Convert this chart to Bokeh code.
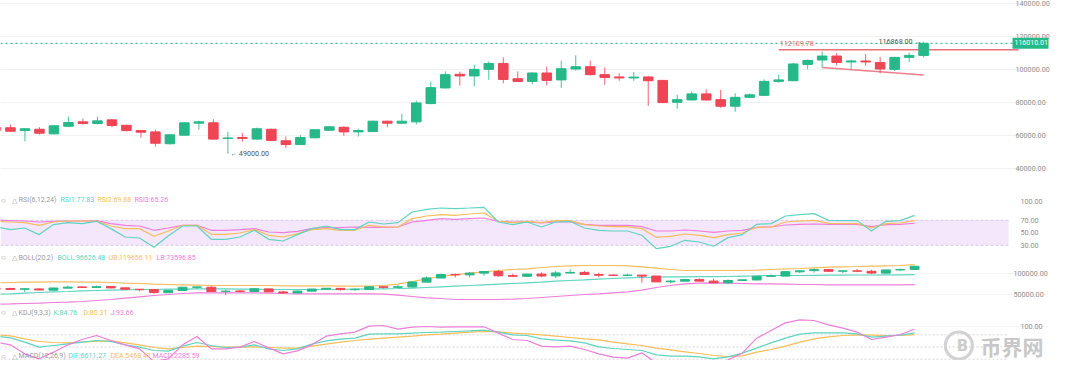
from bokeh.plotting import figure
from bokeh.layouts import column
from bokeh.models import (Range1d, FixedTicker, NumeralTickFormatter, Label,
                          ColumnDataSource)
from bokeh.core.properties import value
from bokeh.embed import file_html
from bokeh.resources import INLINE

# ---------------- data (weekly candles, index -1 .. 63) ----------------
week = list(range(-1, 64))
open_ = [65000, 64700, 63000, 63800, 61000, 65600, 68300, 67300, 69500, 66200,
         63000, 62200, 55000, 60200, 67500, 67700, 58200, 58800, 57800, 63800,
         56800, 54500, 58600, 63200, 65000, 62200, 62400, 68700, 67500, 68300,
         79400, 88900, 97200, 96200, 100200, 103800, 94500, 92900, 98000, 93800,
         100400, 101800, 97000, 95600, 95000, 95600, 93500, 80200, 81600, 85300,
         81800, 77800, 83200, 84400, 92900, 93300, 103200, 105900, 108300, 104700,
         105300, 104400, 100200, 107500, 108700]
high = [65500, 66700, 64500, 65000, 66300, 71500, 70300, 71500, 70000, 66500,
        63300, 63500, 61000, 68000, 69100, 69900, 62200, 61400, 64800, 64100,
        59400, 60200, 63800, 65900, 65500, 64200, 69000, 69000, 73200, 81200,
        92700, 99000, 98800, 103000, 105000, 107500, 99000, 98400, 102000, 105500,
        108700, 105500, 101400, 97800, 98600, 96200, 93800, 84700, 86800, 88100,
        87700, 85600, 85600, 94100, 97000, 104200, 106200, 111100, 110100, 106200,
        109500, 107900, 107800, 110300, 116868]
low = [62800, 62400, 56500, 60600, 60600, 65500, 66700, 66700, 65000, 62500,
       58600, 53300, 54500, 60000, 63500, 57500, 49000, 56200, 57500, 56700,
       52500, 54200, 58300, 63000, 59800, 59400, 62100, 65000, 67200, 66700,
       79000, 88600, 90300, 90100, 93800, 91700, 92500, 91300, 90500, 88900,
       99400, 96500, 90900, 93300, 93300, 78000, 79700, 76200, 81300, 81300,
       76800, 74400, 83000, 84100, 92100, 93000, 100200, 101400, 102600, 99800,
       102400, 97800, 99200, 104700, 107500]
close = [63000, 62600, 64100, 61400, 65900, 67900, 67300, 68900, 66100, 63000,
         62000, 55300, 60400, 67700, 68300, 57800, 58500, 58200, 64100, 57000,
         54500, 58800, 63500, 65300, 62200, 63000, 68700, 67500, 68700, 79800,
         89100, 97000, 96200, 100200, 103800, 94100, 92900, 98000, 93500, 100600,
         101800, 97000, 95300, 95000, 95500, 93300, 80000, 81800, 85300, 81600,
         77800, 83200, 84700, 92900, 93800, 103500, 105600, 108300, 104400, 105300,
         104700, 100400, 107500, 108700, 116010.01]

rsi1 = [59.3, 55.1, 57.7, 47.1, 63.1, 66.3, 64.7, 68.4, 56.7, 43.3, 41.7, 26.8, 44.9,
        60.9, 60.9, 39.6, 39.6, 43.3, 54.0, 39.6, 36.9, 47.1, 56.7, 60.9, 55.1, 55.1,
        67.3, 64.1, 66.3, 83.3, 87.6, 89.7, 88.7, 89.7, 90.8, 67.3, 63.1,
        67.3, 59.3, 67.3, 68.4, 57.7, 54.0, 52.9, 52.9, 46.0, 24.7, 28.4, 38.0, 35.3,
        28.4, 42.3, 47.1, 63.6, 64.7, 76.9, 79.1, 80.7, 70.0, 69.5, 69.5, 52.9, 68.4,
        69.5, 77.83]
rsi2 = [68.4, 67.3, 66.3, 62.0, 67.3, 68.9, 68.9, 68.9, 60.9, 56.7, 56.7, 44.4, 52.9,
        62.0, 62.0, 47.6, 47.6, 49.7, 55.1, 46.0, 43.3, 48.7, 55.1, 56.7, 54.0, 54.0,
        62.0, 59.3, 59.3, 72.7, 76.9, 79.1, 78.0, 80.1, 81.7, 68.4, 66.3,
        68.4, 66.3, 69.5, 69.5, 63.1, 60.9, 59.9, 59.9, 56.7, 42.8, 44.4, 48.1, 46.0,
        42.3, 47.1, 49.7, 58.8, 59.3, 67.3, 68.9, 70.0, 65.2, 64.7, 64.7, 57.7, 64.7,
        65.7, 69.88]
rsi3 = [70.0, 69.5, 68.9, 67.3, 68.4, 68.9, 68.9, 69.5, 64.7, 62.0, 60.9, 54.0, 57.7,
        62.0, 62.0, 54.0, 54.0, 55.1, 56.7, 51.3, 50.3, 52.4, 56.7, 58.3, 58.3, 59.3,
        58.8, 58.8, 59.3, 67.3, 70.0, 72.7, 71.6, 72.7, 73.7, 68.4, 67.3,
        67.3, 65.7, 67.3, 67.3, 63.6, 62.0, 62.0, 62.0, 59.9, 52.9, 52.9, 54.5, 52.9,
        50.8, 52.9, 54.0, 58.8, 59.3, 62.5, 63.6, 64.1, 63.6, 63.6, 63.6, 59.9, 63.1,
        63.6, 65.26]

boll_ub = [77800, 78600, 79300, 79300, 80100, 80100, 79300, 79300, 78600, 77000,
           76300, 74700, 74000, 73200, 72400, 71700, 71700, 71700, 71700, 71700,
           70900, 70900, 70900, 70900, 70100, 70100, 70100, 71700, 74700, 80900,
           87000, 93000, 96200, 100100, 103100, 106200, 108500, 110100, 113100, 115400,
           117000, 117700, 117700, 117700, 117000, 114700, 111600, 108500, 106200, 106200,
           106200, 106200, 106200, 107000, 108500, 110100, 110800, 112400, 113900, 114700,
           115400, 116200, 117000, 117700, 119656.11]
boll_mid = [51700, 52500, 54000, 55500, 57100, 57800, 59400, 60100, 60900, 61700,
            62400, 62400, 63200, 63200, 64000, 64000, 64000, 63200, 63200, 62400,
            62400, 62400, 62400, 62400, 62400, 63200, 64000, 64000, 64700, 65500,
            67100, 68600, 70100, 71700, 73200, 74700, 76300, 77800, 79300, 81600,
            83200, 84700, 86300, 87800, 89300, 90100, 90900, 91600, 91600, 92000,
            92000, 92400, 93200, 93900, 94700, 94700, 94700, 95100, 95500, 95500,
            95800, 95800, 96200, 96200, 96626.48]
boll_lb = [28700, 29400, 30200, 31000, 32500, 33300, 34800, 37100, 39400, 42500,
           45500, 48600, 50900, 53200, 54800, 54800, 54800, 54800, 54800, 54000,
           53200, 52500, 52500, 52500, 52500, 52500, 52500, 51700, 49400, 46300,
           43200, 41700, 39400, 39400, 39400, 39400, 40200, 41700, 44000, 46300,
           48600, 50900, 52500, 54800, 57100, 60900, 67100, 71700, 75500, 77000,
           77800, 77000, 76300, 75500, 75500, 74700, 74000, 74000, 73200, 73200,
           73200, 73200, 73200, 73200, 73596.85]

kdj_k = [76.7, 72.6, 61.9, 49.5, 53.6, 57.7, 61.9, 66.0, 63.5, 55.3, 49.5, 41.3, 39.7,
         52.0, 61.0, 53.6, 48.7, 49.5, 55.3, 45.4, 41.3, 45.4, 56.9, 65.1, 69.3, 71.7,
         81.6, 82.4, 82.4, 84.1, 85.7, 86.5, 88.2, 89.8, 91.5, 86.5, 79.9,
         78.3, 70.1, 66.8, 65.1, 60.2, 50.3, 46.2, 43.8, 41.3, 30.6, 27.3, 27.3, 25.7,
         20.8, 25.7, 34.7, 47.1, 60.2, 71.7, 81.6, 84.9, 84.9, 84.9, 82.4, 74.2, 76.7,
         79.1, 84.76]
kdj_d = [79.9, 77.5, 70.1, 63.5, 61.0, 60.2, 61.9, 64.3, 65.1, 60.2, 55.3, 48.7, 45.4,
         48.7, 52.0, 51.2, 49.5, 49.5, 50.3, 48.7, 47.1, 47.1, 52.0, 56.9, 61.9, 66.0,
         69.3, 71.7, 74.2, 76.7, 79.9, 81.6, 84.1, 86.5, 88.2, 87.4, 84.1,
         82.4, 79.9, 76.7, 73.4, 70.1, 67.6, 61.9, 57.7, 53.6, 47.1, 42.9, 38.0, 33.9,
         29.0, 26.5, 28.2, 37.2, 43.8, 52.0, 61.9, 70.1, 75.0, 78.3, 79.9, 79.1, 78.3,
         78.3, 80.31]
kdj_j = [61.9, 55.3, 33.1, 20.8, 37.2, 55.3, 68.4, 78.3, 66.0, 55.3, 45.4, 14.2, 20.8,
         55.3, 75.8, 45.4, 45.4, 49.5, 63.5, 47.9, 33.1, 40.5, 55.3, 76.7, 82.4, 86.5,
         101.3, 102.9, 93.9, 98.9, 100.5, 98.9, 99.7, 99.7, 99.7, 84.1, 68.4,
         66.0, 52.0, 50.3, 52.0, 43.8, 33.1, 24.9, 22.4, 35.6, 10.1, 8.5, 14.2, 14.2,
         4.3, 18.3, 34.7, 71.7, 90.6, 109.5, 116.9, 115.3, 104.6, 96.4, 86.5, 68.4, 74.2,
         80.8, 93.66]

price_ticks = [40000, 60000, 80000, 100000, 120000, 140000]
rsi_ticks = [30, 50, 70, 100]
boll_ticks = [50000, 100000]
kdj_ticks = [100]
rsi_band = [30, 70]
kdj_levels = [20, 50, 80]

last_price = 116010.01
period_high, high_week = 116868.00, 63
period_low, low_week = 49000.00, 15
resist_level, resist_start = 112109.78, 53
trend_x = [56, 63]
trend_y = [101400, 96800]

rsi_head = ["RSI(6,12,24)", "RSI1:77.83", "RSI2:69.88", "RSI3:65.26"]
boll_head = ["BOLL(20,2)", "BOLL:96626.48", "UB:119656.11", "LB:73596.85"]
kdj_head = ["KDJ(9,3,3)", "K:84.76", "D:80.31", "J:93.66"]
macd_head = ["MACD(12,26,9)", "DIF:6611.27", "DEA:5468.47", "MACD:2285.59"]

# ---------------- styling / layout ----------------
GREEN = "#26b889"
RED = "#ef4554"
TEAL = "#5fd4c0"
ORANGE = "#f7bd5a"
PINK = "#ee7ed9"
GRAY = "#8f8f8f"
HEAD_GRAY = "#9a9a9a"
FONT = "Roboto"
W = 1052
STEP = 14.55      # px between candles in the price pane
IND = 0.9902      # indicator panes are slightly narrower

x_main = Range1d(-10 / STEP, (W - 10) / STEP)
x_ind = Range1d(-10 / STEP, (W / IND - 10) / STEP)
main_edge = (1022 - 10) / STEP          # right end of the price plot area
ind_edge = (1012 / IND - 10) / STEP      # right end of indicator plot area

def yrange(top_px, h, v0, y0, k):
    return Range1d(v0 + (y0 - (top_px + h)) / k, v0 + (y0 - top_px) / k)

def make_fig(h, xr, yr, ticks, standoff):
    p = figure(width=W, height=h, x_range=xr, y_range=yr, output_backend="svg",
               toolbar_location=None, min_border_left=0, min_border_right=0,
               min_border_top=0, min_border_bottom=0, y_axis_location="right",
               x_axis_location=None)
    p.outline_line_color = None
    p.background_fill_color = "white"
    p.border_fill_color = "white"
    p.xgrid.visible = False
    p.ygrid.grid_line_color = "#f1f1f1"
    ax = p.yaxis[0]
    ax.ticker = FixedTicker(ticks=ticks)
    ax.formatter = NumeralTickFormatter(format="0.00")
    ax.axis_line_color = None
    ax.major_tick_line_color = None
    ax.minor_tick_line_color = None
    ax.major_tick_out = 0
    ax.major_tick_in = 0
    ax.major_label_standoff = standoff
    ax.major_label_text_font = FONT
    ax.major_label_text_font_size = "7.2px"
    ax.major_label_text_color = GRAY
    return p

def add_header(p, h, top_px, ref_y, texts, xs):
    ys = h - (ref_y - top_px)
    cols = [HEAD_GRAY, TEAL, ORANGE, PINK]
    for t, c, rx in zip(texts, cols, xs):
        p.add_layout(Label(x=rx, y=ys, x_units="screen", y_units="screen", text=t,
                           text_color=c, text_font=FONT, text_font_size="7px",
                           text_baseline="middle", text_align="left"))
    p.add_layout(Label(x=3, y=ys, x_units="screen", y_units="screen", text="○",
                       text_color=HEAD_GRAY, text_font_size="8px", text_baseline="middle",
                       text_align="center"))
    p.add_layout(Label(x=13.5, y=ys, x_units="screen", y_units="screen", text="△",
                       text_color=HEAD_GRAY, text_font_size="7px", text_baseline="middle",
                       text_align="center"))

colors = [GREEN if c >= o else RED for o, c in zip(open_, close)]
src = ColumnDataSource(dict(x=week, o=open_, h=high, l=low, c=close,
                            top=[max(o, c) for o, c in zip(open_, close)],
                            bot=[min(o, c) for o, c in zip(open_, close)],
                            color=colors))

def candles(p, width):
    p.segment(x0="x", y0="l", x1="x", y1="h", source=src, line_color="color",
              line_width=1, line_alpha=0.85)
    p.vbar(x="x", width=width, top="top", bottom="bot", source=src, fill_color="color",
           line_color="color", line_width=1)

tops = [0, 192, 251, 306]
hs = [192, 59, 55, 54]

# ---- main price pane ----
pm = make_fig(hs[0], x_main, yrange(tops[0], hs[0], 100000, 69.2, 32.9 / 20000),
              price_ticks, -33)
pm.segment(x0=[x_main.start], y0=[last_price], x1=[main_edge], y1=[last_price],
           line_color="#3cc29f", line_dash="2 3", line_width=1.2)
pm.segment(x0=[resist_start], y0=[resist_level], x1=[main_edge], y1=[resist_level],
           line_color="#e8707c", line_width=1.6)
pm.line(trend_x, trend_y, line_color="#f07d8b", line_width=1.5)
candles(pm, 0.66)
pm.text(x=[low_week], y=[period_low], text=["← " + f"{period_low:.2f}"], x_offset=2,
        text_font=value(FONT), text_font_size="7.2px", text_color="#555555",
        text_baseline="middle", text_align="left")
pm.text(x=[high_week], y=[period_high], text=[f"{period_high:.2f}" + " →"], x_offset=-2,
        text_font=value(FONT), text_font_size="7.2px", text_color="#555555",
        text_baseline="middle", text_align="right")
pm.text(x=[resist_start], y=[resist_level], text=[f"{resist_level:.2f}"], x_offset=1,
        y_offset=-4, text_font=value(FONT), text_font_size="7.2px", text_color="#e06b78",
        text_baseline="bottom", text_align="left")
pm.add_layout(Label(x=1012, y=last_price, x_units="screen", y_units="data",
                    text=f"{last_price:.2f}", text_color="white", text_font=FONT,
                    text_font_size="7px", text_baseline="middle", text_align="left",
                    background_fill_color=GREEN, padding=(2, 3, 2, 4)))

# ---- RSI pane ----
pr = make_fig(hs[1], x_ind, yrange(tops[1], hs[1], 30, 244.8, 0.625), rsi_ticks, -28)
pr.ygrid.visible = False
pr.quad(left=[x_ind.start], right=[ind_edge], bottom=[rsi_band[0]], top=[rsi_band[1]],
        fill_color="#f4e6fb", line_color=None)
pr.multi_line(xs=[[x_ind.start, ind_edge]] * 2, ys=[[lv, lv] for lv in rsi_band],
              line_color="#d9c7e6", line_dash="3 2", line_width=1)
pr.line(week, rsi3, line_color=PINK, line_width=1.2)
pr.line(week, rsi2, line_color=ORANGE, line_width=1.2)
pr.line(week, rsi1, line_color=TEAL, line_width=1.2)
add_header(pr, hs[1], tops[1], 199.7, rsi_head, [18.3, 60, 97, 134])

# ---- BOLL pane ----
pb = make_fig(hs[2], x_ind, yrange(tops[2], hs[2], 100000, 272.7, 21.7 / 50000),
              boll_ticks, -35)
pb.ygrid.grid_line_color = "#f5f5f5"
pb.line(week, boll_lb, line_color=PINK, line_width=1.2)
pb.line(week, boll_ub, line_color=ORANGE, line_width=1.2)
pb.line(week, boll_mid, line_color=TEAL, line_width=1.2)
candles(pb, 0.62)
add_header(pb, hs[2], tops[2], 257, boll_head, [18, 57, 108, 156])

# ---- KDJ pane (MACD header at its foot) ----
KDJ_V0, KDJ_Y0, KDJ_K = 100, 326.2, 0.4055
pk = make_fig(hs[3], x_ind, yrange(tops[3], hs[3], KDJ_V0, KDJ_Y0, KDJ_K), kdj_ticks, -28)
pk.ygrid.grid_line_color = "#f5f5f5"
pk.multi_line(xs=[[x_ind.start, ind_edge]] * 3, ys=[[lv, lv] for lv in kdj_levels],
              line_color="#d6d6d6", line_dash="2 2", line_width=1)
pk.line(week, kdj_d, line_color=ORANGE, line_width=1.2)
pk.line(week, kdj_k, line_color=TEAL, line_width=1.2)
pk.line(week, kdj_j, line_color=PINK, line_width=1.2)
add_header(pk, hs[3], tops[3], 312, kdj_head, [18, 53, 83, 110])
add_header(pk, hs[3], tops[3], 355.5, macd_head, [18, 68, 110, 152])

# watermark: ring logo + site name (screen-placed decoration)
wm_px, wm_py = 962, 345
ring_x = (wm_px / IND - 10) / STEP
ring_y = KDJ_V0 + (KDJ_Y0 - wm_py) / KDJ_K
pk.scatter(x=[ring_x], y=[ring_y], marker="circle", size=27, fill_color=None,
           line_color="#d2d2d2", line_width=3.2)
ywm = hs[3] - (wm_py - tops[3])
pk.add_layout(Label(x=wm_px, y=ywm, x_units="screen", y_units="screen", text="B",
                    text_color="#cdcdcd", text_font="DejaVu Sans", text_font_size="15px",
                    text_font_style="bold", text_baseline="middle", text_align="center"))
pk.add_layout(Label(x=980, y=ywm, x_units="screen", y_units="screen", text="币界网",
                    text_color="#c8c8c8", text_font="Noto Sans CJK SC", text_font_size="21px",
                    text_font_style="bold", text_baseline="middle", text_align="left"))

layout = column(pm, pr, pb, pk, spacing=0)
open("out.html", "w").write(file_html(layout, INLINE))
